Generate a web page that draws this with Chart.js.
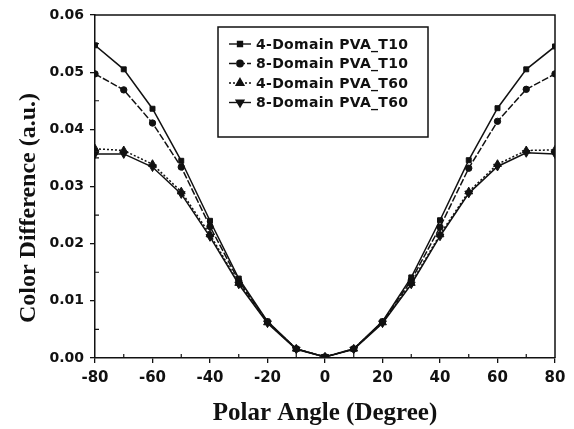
<!DOCTYPE html>
<html>
<head>
<meta charset="utf-8">
<script src="https://cdn.jsdelivr.net/npm/chart.js@4.4.1/dist/chart.umd.min.js"></script>
<style>
  html, body { margin: 0; padding: 0; background: #fff; }
  #wrap { width: 574px; height: 429px; }
</style>
</head>
<body>
<div id="wrap"><canvas id="c" width="574" height="429"></canvas></div>
<script>
// angles in degrees
const angles = [-80, -70, -60, -50, -40, -30, -20, -10, 0, 10, 20, 30, 40, 50, 60, 70, 80];

const d4T10 = [0.0547, 0.0505, 0.0436, 0.0345, 0.0240, 0.0139, 0.0064, 0.0016, 0.0002, 0.0016, 0.0064, 0.0141, 0.0241, 0.0346, 0.0437, 0.0505, 0.0545];
const d8T10 = [0.0497, 0.0469, 0.0411, 0.0334, 0.0230, 0.0135, 0.0063, 0.0016, 0.0002, 0.0016, 0.0063, 0.0136, 0.0229, 0.0332, 0.0414, 0.0470, 0.0497];
const d4T60 = [0.0366, 0.0363, 0.0339, 0.0291, 0.0216, 0.0131, 0.0062, 0.0016, 0.0002, 0.0016, 0.0062, 0.0131, 0.0216, 0.0291, 0.0339, 0.0363, 0.0364];
const d8T60 = [0.0357, 0.0357, 0.0334, 0.0287, 0.0212, 0.0129, 0.0061, 0.0015, 0.0002, 0.0015, 0.0061, 0.0129, 0.0213, 0.0288, 0.0335, 0.0359, 0.0357];

const seriesNames = ['4-Domain PVA_T10', '8-Domain PVA_T10', '4-Domain PVA_T60', '8-Domain PVA_T60'];
const xTitle = 'Polar Angle (Degree)';
const yTitle = 'Color Difference (a.u.)';

const TICK_FONT = { family: 'DejaVu Sans', weight: 'bold', size: 14 };

const pts = ys => ys.map((y, i) => ({ x: angles[i], y }));

function series(label, ys, style, radius, rot, dash) {
  return {
    label, data: pts(ys),
    borderColor: '#111', backgroundColor: '#111',
    borderWidth: 1.5, borderDash: dash,
    pointStyle: style, pointRadius: radius, pointRotation: rot,
    pointBorderWidth: 1, tension: 0
  };
}

/* Rahmen oben/rechts, kleine Zwischenstriche, Achsentitel und die Legende im Kasten */
const decor = {
  id: 'decor',
  afterDraw(chart) {
    const { ctx, chartArea: a, scales } = chart;
    ctx.save();
    ctx.strokeStyle = '#111';
    ctx.lineWidth = 1.5;
    ctx.beginPath();
    ctx.moveTo(a.left, a.top); ctx.lineTo(a.right, a.top); ctx.lineTo(a.right, a.bottom);
    ctx.stroke();

    // minor ticks, pointing inward
    ctx.lineWidth = 1.2;
    ctx.beginPath();
    for (let v = -70; v <= 70; v += 20) {
      const x = scales.x.getPixelForValue(v);
      ctx.moveTo(x, a.bottom); ctx.lineTo(x, a.bottom - 4);
    }
    for (let v = 0.005; v < 0.06; v += 0.01) {
      const y = scales.y.getPixelForValue(v);
      ctx.moveTo(a.left, y); ctx.lineTo(a.left + 4, y);
    }
    ctx.stroke();

    // axis titles
    ctx.fillStyle = '#111';
    ctx.textAlign = 'center';
    ctx.textBaseline = 'alphabetic';
    ctx.font = 'bold 25px "Liberation Serif"';
    ctx.fillText(xTitle, (a.left + a.right) / 2, 420);
    ctx.save();
    ctx.translate(35, 208);
    ctx.rotate(-Math.PI / 2);
    ctx.font = 'bold 24px "Liberation Serif"';
    ctx.fillText(yTitle, 0, 0);
    ctx.restore();

    // legend box
    ctx.textAlign = 'left';
    const bx = 218, by = 27, bw = 210, bh = 110;
    ctx.lineWidth = 1.5;
    ctx.strokeRect(bx, by, bw, bh);
    ctx.font = 'bold 14px "DejaVu Sans"';
    ctx.letterSpacing = '0.3px';
    ctx.textBaseline = 'middle';
    chart.data.datasets.forEach((ds, i) => {
      const y = 44 + i * 19.5;
      ctx.lineWidth = 1.4;
      ctx.setLineDash(ds.borderDash || []);
      ctx.beginPath(); ctx.moveTo(229, y); ctx.lineTo(251, y); ctx.stroke();
      ctx.setLineDash([]);
      Chart.helpers.drawPoint(ctx, {
        pointStyle: ds.pointStyle, radius: ds.pointRadius, rotation: ds.pointRotation, borderWidth: 1
      }, 240, y);
      ctx.fillText(ds.label, 256, y + 1);
    });
    ctx.restore();
  }
};

new Chart(document.getElementById('c'), {
  type: 'line',
  data: {
    datasets: [
      series(seriesNames[0], d4T10, 'rect', 3.5, 0, []),
      series(seriesNames[1], d8T10, 'circle', 3.2, 0, [7, 2]),
      series(seriesNames[2], d4T60, 'triangle', 4.5, 0, [2, 2]),
      series(seriesNames[3], d8T60, 'triangle', 4.5, 180, [])
    ]
  },
  options: {
    responsive: false,
    animation: false,
    layout: { padding: { top: 15, right: 19, left: 0, bottom: 0 } },
    plugins: { legend: { display: false }, tooltip: { enabled: false } },
    scales: {
      x: {
        type: 'linear', min: -80, max: 80,
        afterFit: s => { s.height = 71; },
        border: { color: '#111', width: 1.5 },
        grid: { drawOnChartArea: false, tickLength: 5, color: '#111', lineWidth: 1.3 },
        ticks: { stepSize: 20, color: '#111', font: { family: 'DejaVu Sans', weight: 'bold', size: 15 }, padding: 6, maxRotation: 0 }
      },
      y: {
        min: 0, max: 0.06,
        afterFit: s => { s.width = 95; },
        border: { color: '#111', width: 1.5 },
        grid: { drawOnChartArea: false, tickLength: 5, color: '#111', lineWidth: 1.3 },
        ticks: { stepSize: 0.01, color: '#111', font: TICK_FONT, padding: 6, callback: v => v.toFixed(2) }
      }
    }
  },
  plugins: [decor]
});
</script>
</body>
</html>
